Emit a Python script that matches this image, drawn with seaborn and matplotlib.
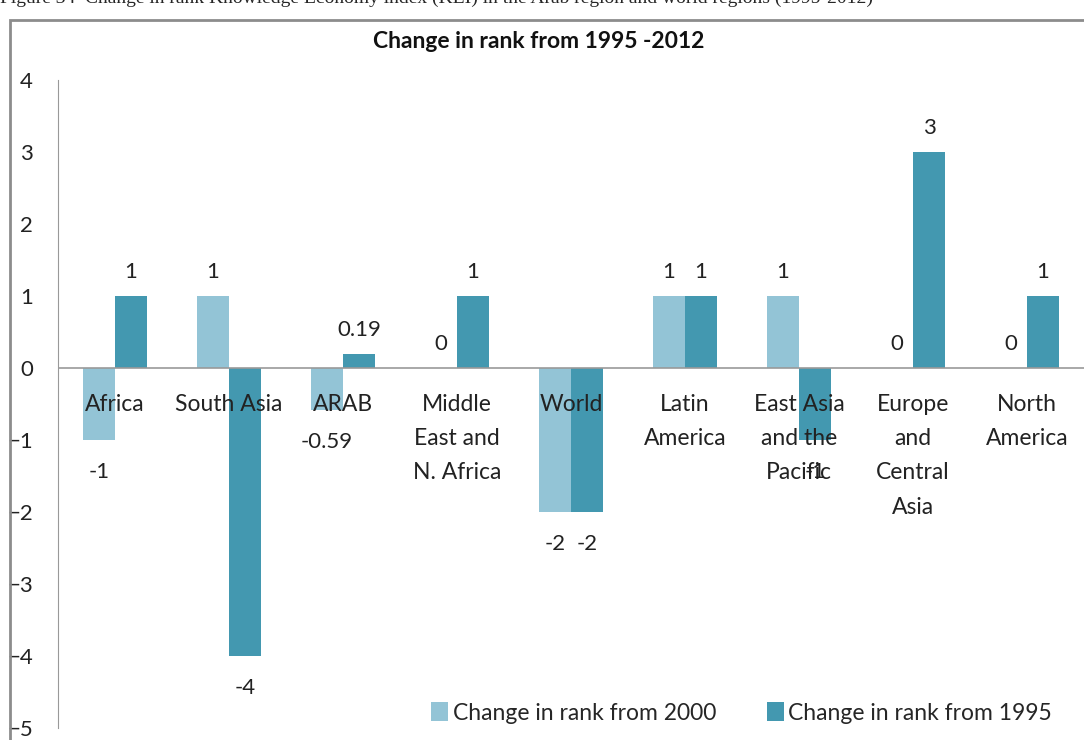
import pandas as pd
import matplotlib
matplotlib.use('Agg')
import matplotlib.pyplot as plt
import seaborn as sns
from matplotlib.patches import Rectangle

# Data
regions = ['Africa', 'South Asia', 'ARAB', 'Middle\nEast and\nN. Africa', 'World',
           'Latin\nAmerica', 'East Asia\nand the\nPacific', 'Europe\nand\nCentral\nAsia',
           'North\nAmerica']
change_2000 = [-1, 1, -0.59, 0, -2, 1, 1, 0, 0]
change_1995 = [1, -4, 0.19, 1, -2, 1, -1, 3, 1]
series_names = ['Change in rank from 2000', 'Change in rank from 1995']
colors = ['#93C4D6', '#4398B0']

df = pd.DataFrame({
    'region': regions * 2,
    'value': change_2000 + change_1995,
    'series': [series_names[0]] * len(regions) + [series_names[1]] * len(regions),
})

sns.set_style('white')
plt.rcParams['font.family'] = ['Lato', 'DejaVu Sans']

fig = plt.figure(figsize=(10.84, 7.4), dpi=100)
ax = fig.add_axes([0.0535, 0.0162, 0.9465, 0.8757])

sns.barplot(data=df, x='region', y='value', hue='series', palette=colors,
            width=0.56, gap=0, ax=ax, saturation=1, linewidth=0, zorder=2)

ax.set_ylim(-5, 4)
ax.set_xlim(-0.5, len(regions) - 0.5)
ax.set_yticks(range(-5, 5))
ax.tick_params(axis='y', labelsize=16, length=0, pad=18, labelcolor='#222222')
ax.set_xticks([])
ax.set_xlabel('')
ax.set_ylabel('')
for s in ['top', 'right', 'bottom']:
    ax.spines[s].set_visible(False)
ax.spines['left'].set_color('#999999')
ax.axhline(0, color='#999999', lw=1.2, zorder=3)

# value labels
for cont in ax.containers:
    for bar in cont:
        h = bar.get_height()
        xc = bar.get_x() + bar.get_width() / 2
        lab = f'{h:g}'
        if h >= 0:
            ax.text(xc, h + 0.2, lab, ha='center', va='bottom', fontsize=16, color='#222222', zorder=5)
        else:
            ax.text(xc, h - 0.3, lab, ha='center', va='top', fontsize=16, color='#222222', zorder=5)

# category labels next to the zero line
for i, r in enumerate(regions):
    ax.text(i, -0.36, r, ha='center', va='top', fontsize=16.5, color='#222222',
            linespacing=1.78, zorder=5)

ax.legend(loc='lower right', bbox_to_anchor=(0.989, -0.025), ncol=2, frameon=False,
          fontsize=16.5, handlelength=0.75, handleheight=0.9, handletextpad=0.2,
          columnspacing=2.2)

fig.text(0.497, 1 - 42 / 740, 'Change in rank from 1995 -2012', ha='center', va='center',
         fontsize=16.5, fontweight='bold', color='#111111')
fig.text(0.0, 1.002, 'Figure 34  Change in rank Knowledge Economy index (KEI) in the Arab region and world regions (1995-2012)',
         ha='left', va='center', fontsize=14, family=['Liberation Serif', 'DejaVu Serif'])

fig.patches.append(Rectangle((10 / 1084, -0.05), 1.2, 1 - 20 / 740 + 0.05,
                             transform=fig.transFigure, fill=False,
                             edgecolor='#8c8c8c', lw=2))

fig.savefig('out.png', dpi=100)
